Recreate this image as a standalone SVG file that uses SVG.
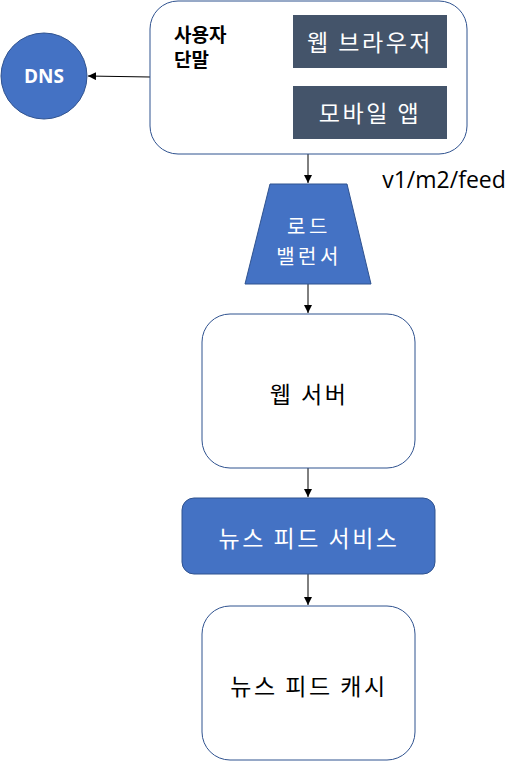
<svg xmlns="http://www.w3.org/2000/svg" width="523" height="761" viewBox="0 0 523 761">
<style>
.box{fill:#ffffff;stroke:#2F528F;stroke-width:1}
.blue{fill:#4472C4;stroke:#2F528F;stroke-width:1}
.dark{fill:#44546A;stroke:none}
.t{font-family:"Noto Sans CJK KR","Noto Sans",sans-serif;text-anchor:middle;dominant-baseline:central}
.lbl{font-size:23px;letter-spacing:2.5px}
.lb2{font-size:20px;letter-spacing:3.5px}
.w{fill:#ffffff}
.k{fill:#000000}
.edge{stroke:#000000;stroke-width:1;fill:none;marker-end:url(#ah)}
</style>
<defs>
<marker id="ah" viewBox="0 0 10 10" refX="10" refY="5" markerWidth="8" markerHeight="8" markerUnits="userSpaceOnUse" orient="auto">
<path d="M0,0 L10,5 L0,10 z" fill="#000000"/>
</marker>
</defs>
<rect width="523" height="761" fill="#ffffff"/>
<g id="connectors">
<line class="edge" x1="150" y1="77" x2="88" y2="76"/>
<line class="edge" x1="308" y1="154" x2="308" y2="183"/>
<line class="edge" x1="308" y1="284" x2="308" y2="313"/>
<line class="edge" x1="308" y1="468" x2="308" y2="497"/>
<line class="edge" x1="308" y1="574" x2="308" y2="605"/>
</g>
<g id="user-terminal">
<rect class="box" x="150" y="1" width="317" height="153" rx="28" ry="28"/>
<text class="t k" x="174" y="33" font-size="19" font-weight="bold" style="text-anchor:start">사용자</text>
<text class="t k" x="174" y="58" font-size="19" font-weight="bold" style="text-anchor:start">단말</text>
</g>
<g id="web-browser">
<rect class="dark" x="293" y="15" width="154" height="53"/>
<text class="t w lbl" x="370" y="41">웹 브라우저</text>
</g>
<g id="mobile-app">
<rect class="dark" x="293" y="86" width="154" height="53"/>
<text class="t w lbl" x="370" y="112">모바일 앱</text>
</g>
<g id="dns">
<circle class="blue" cx="44" cy="76" r="43"/>
<text class="t w" x="44" y="76" font-size="19" font-weight="bold" style="font-family:'Open Sans','Noto Sans',sans-serif">DNS</text>
</g>
<g id="load-balancer">
<polygon class="blue" points="270,184 347,184 371,284 245,284"/>
<text class="t w lb2" x="309" y="225">로드</text>
<text class="t w lb2" x="309" y="255">밸런서</text>
</g>
<text class="t k" x="444" y="179" font-size="23" style="font-family:'Open Sans','Noto Sans',sans-serif">v1/m2/feed</text>
<g id="web-server">
<rect class="box" x="202" y="314" width="213" height="154" rx="28" ry="28"/>
<text class="t k lbl" x="309" y="393">웹 서버</text>
</g>
<g id="news-feed-service">
<rect class="blue" x="182" y="498" width="253" height="76" rx="12" ry="12"/>
<text class="t w lbl" x="309" y="537">뉴스 피드 서비스</text>
</g>
<g id="news-feed-cache">
<rect class="box" x="202" y="606" width="213" height="154" rx="28" ry="28"/>
<text class="t k lbl" x="309" y="685">뉴스 피드 캐시</text>
</g>
</svg>
